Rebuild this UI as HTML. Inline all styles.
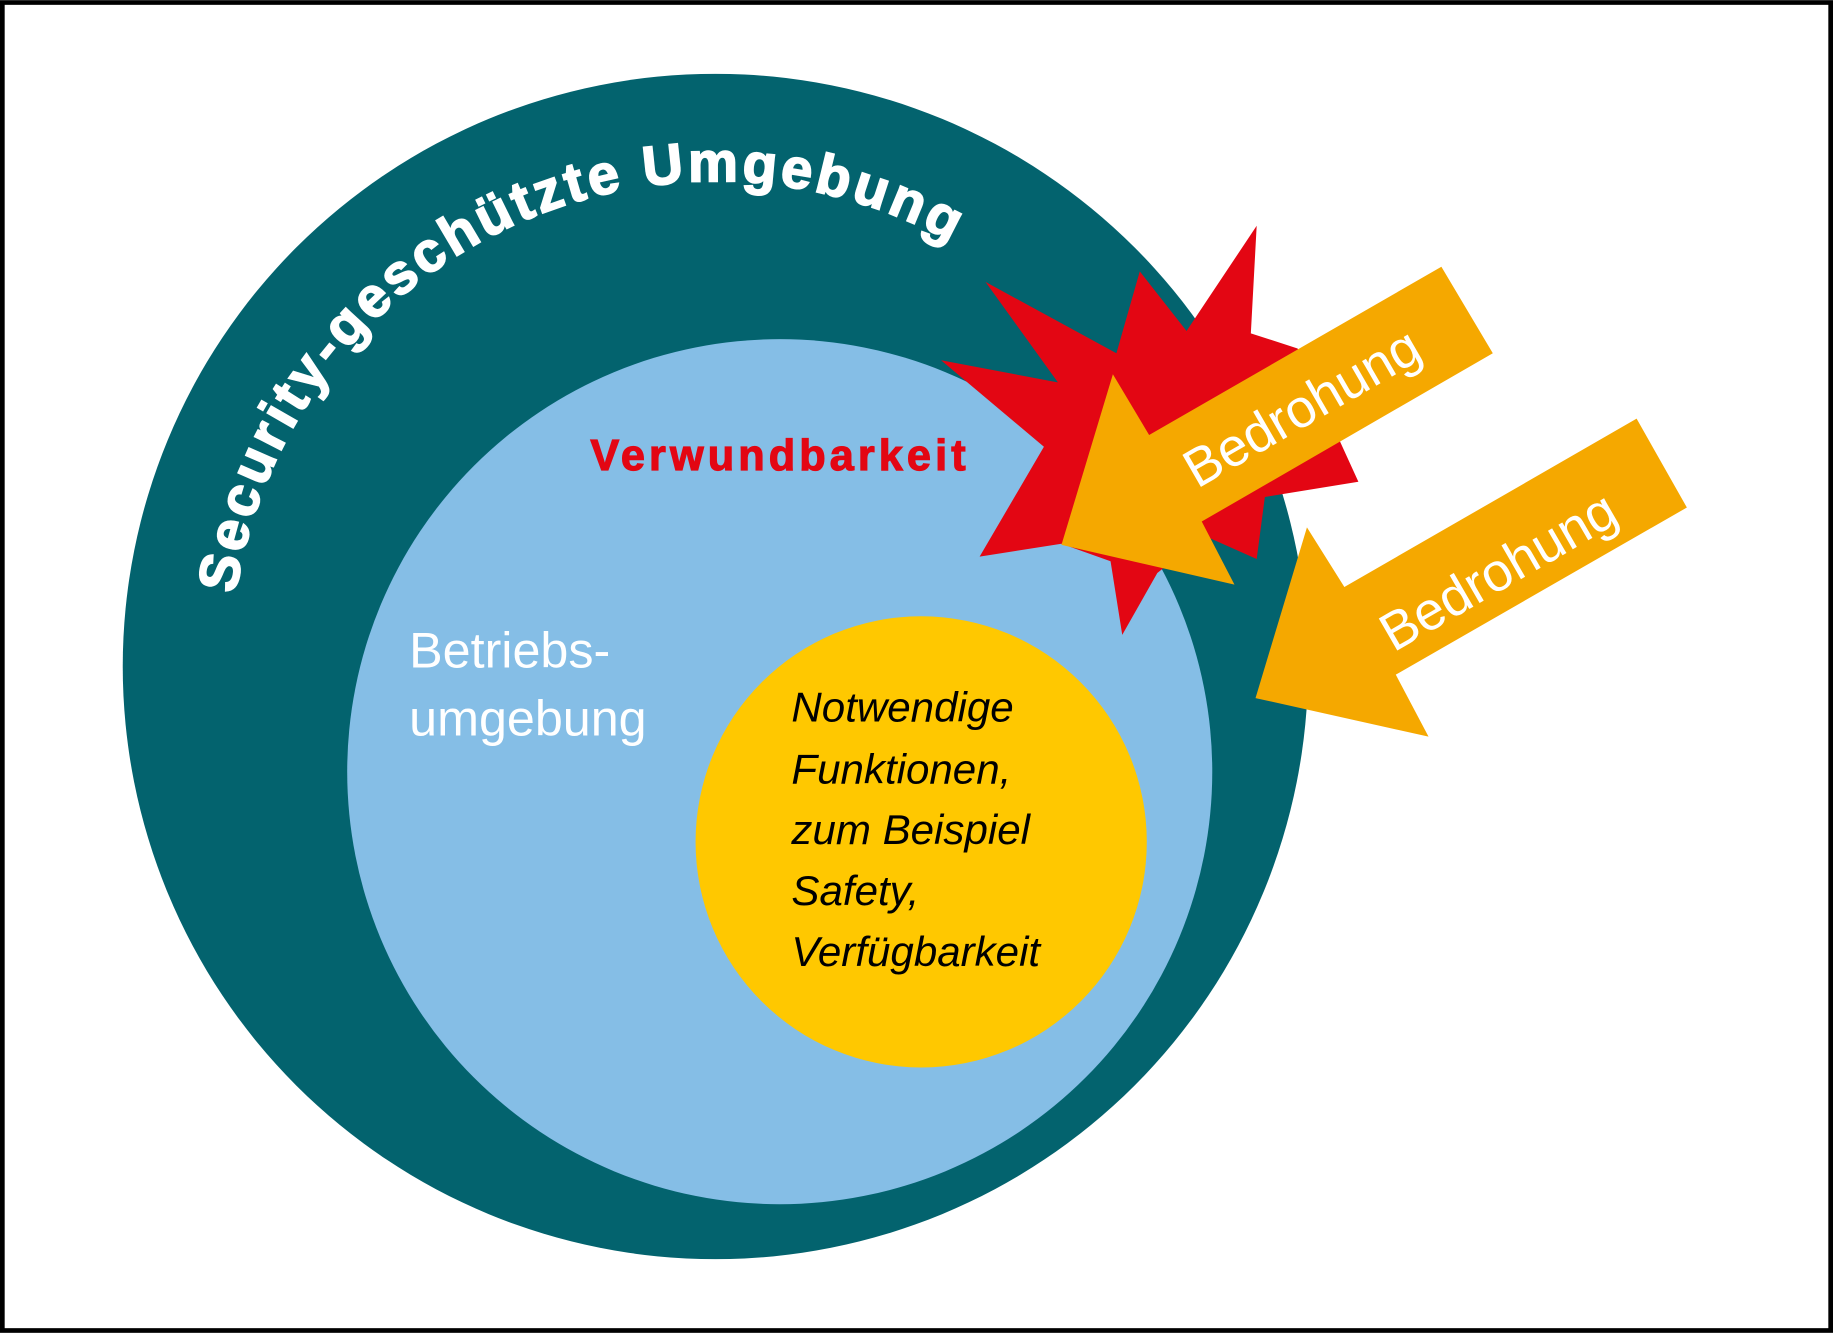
<!DOCTYPE html>
<html><head><meta charset="utf-8"><style>html,body{margin:0;padding:0;background:#fff}svg{display:block}</style></head>
<body>
<svg width="1833" height="1333" viewBox="0 0 1568 1140" xmlns="http://www.w3.org/2000/svg">
<rect x="2" y="2" width="1564" height="1136" fill="#fff" stroke="#000" stroke-width="4"/>
<circle cx="612" cy="570" r="507" fill="#03636e"/>
<circle cx="667" cy="660" r="370" fill="#85bee6"/>
<circle cx="788" cy="720" r="193" fill="#ffc800"/>
<polygon fill="#e30613" points="843,241 955,302 975,232 1015,283 1075,193 1070,285 1110,298 1162,412 1082,425 1075,478 1030,458 990,490 960,543 950,480 908,465 838,476 893,382 805,308 905,327"/>
<polygon fill="#f5a800" points="1233,228 1277,302 1028,446 1056,500 908,466 952,320 983,372"/>
<polygon fill="#f5a800" points="1400,358 1443,434 1194,577 1222,630 1074,597 1118,451 1150,502"/>
<text x="1114" y="364" transform="rotate(-30 1114 349)" text-anchor="middle" fill="#fff" font-family="Liberation Sans, sans-serif" font-size="46">Bedrohung</text>
<text x="1282" y="504" transform="rotate(-30 1282 489)" text-anchor="middle" fill="#fff" font-family="Liberation Sans, sans-serif" font-size="46">Bedrohung</text>
<defs><path id="arc" d="M 197 570 A 415 415 0 0 1 1027 570"/></defs>
<text fill="#fff" font-family="Liberation Sans, sans-serif" font-weight="bold" font-size="48" stroke="#fff" stroke-width="1.5"><textPath href="#arc" startOffset="62" textLength="800" lengthAdjust="spacing">Security-geschützte Umgebung</textPath></text>
<text x="505" y="402" fill="#e30613" font-family="Liberation Sans, sans-serif" font-weight="bold" font-size="37" stroke="#e30613" stroke-width="1" textLength="321" lengthAdjust="spacing">Verwundbarkeit</text>
<text fill="#fff" font-family="Liberation Sans, sans-serif" font-size="43"><tspan x="350" y="571">Betriebs-</tspan><tspan x="350" y="629">umgebung</tspan></text>
<text fill="#000" font-family="Liberation Sans, sans-serif" font-style="italic" font-size="36"><tspan x="677" y="617">Notwendige</tspan><tspan x="677" y="670">Funktionen,</tspan><tspan x="677" y="722">zum Beispiel</tspan><tspan x="677" y="774">Safety,</tspan><tspan x="677" y="826">Verfügbarkeit</tspan></text>
</svg>
</body></html>
